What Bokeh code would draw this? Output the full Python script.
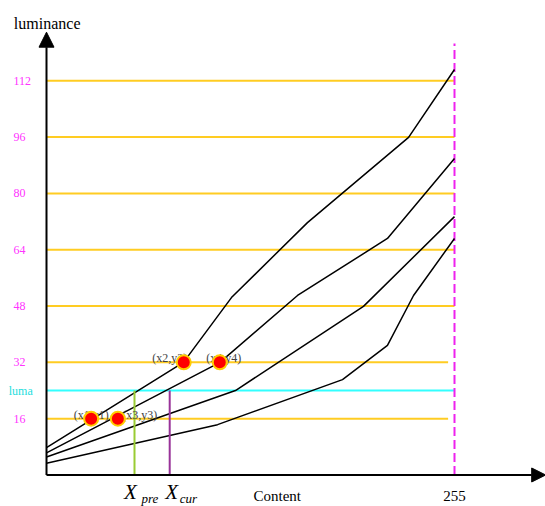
from bokeh.plotting import figure
from bokeh.models import Range1d, ColumnDataSource, Arrow, NormalHead
from bokeh.core.properties import value
from bokeh.embed import file_html
from bokeh.resources import INLINE

# ---- data ----
curve1_x = [0, 85.6, 115.6, 163.1, 226.3, 255]
curve1_y = [7.8, 32, 50.4, 71.7, 95.9, 115.2]
curve2_x = [0, 108.4, 156.9, 213.1, 255]
curve2_y = [6.3, 32, 51.0, 67.2, 89.9]
curve3_x = [0, 118.1, 198.1, 255]
curve3_y = [5.1, 24.0, 47.9, 73.4]
curve4_x = [0, 106.9, 185.0, 213.1, 229.4, 255]
curve4_y = [3.35, 14.3, 27.1, 36.8, 51.0, 67.2]

levels_long = [48, 64, 80, 96, 112]
levels_short = [16, 32]
luma = 24
tick_labels = ["112", "96", "80", "64", "48", "32", "16"]
tick_values = [112, 96, 80, 64, 48, 32, 16]

point_names = ["(x1,y1)", "(x2,y2)", "(x3,y3)", "(x4,y4)"]
point_x = [27.9, 85.8, 44.6, 108.3]
point_y = [16, 32, 16, 32]

x_pre = 55
x_cur = 77
x_max = 255
short_end = 251

# ---- figure (data mapped to page pixels) ----
p = figure(width=545, height=506, output_backend="svg", toolbar_location=None,
           x_range=Range1d(-28.75, 311.875), y_range=Range1d(-8.95, 134.8),
           x_axis_type=None, y_axis_type=None, min_border=0,
           outline_line_color=None, background_fill_color="white")
p.xgrid.visible = False
p.ygrid.visible = False

yellow = "#ffcc22"
serif = value("Liberation Serif")

# horizontal level lines
for lv in levels_long:
    p.line([0, x_max], [lv, lv], line_color=yellow, line_width=2)
for lv in levels_short:
    p.line([0, short_end], [lv, lv], line_color=yellow, line_width=2)
p.line([0, x_max], [luma, luma], line_color="#33ffff", line_width=2)

# dashed 255 line
p.line([x_max, x_max], [0, 122.6], line_color="#ee22ee", line_width=2, line_dash="9 4")

# curves
for cx, cy in [(curve1_x, curve1_y), (curve2_x, curve2_y), (curve3_x, curve3_y), (curve4_x, curve4_y)]:
    p.line(cx, cy, line_color="black", line_width=1.5)

# vertical markers
p.line([x_pre, x_pre], [0, luma], line_color="#99cc33", line_width=2)
p.line([x_cur, x_cur], [0, luma], line_color="#993399", line_width=2)

# axes with arrows
p.add_layout(Arrow(end=NormalHead(size=14, fill_color="black", line_color="black"),
                   x_start=0, y_start=0, x_end=312, y_end=0, line_width=2, line_color="black"))
p.add_layout(Arrow(end=NormalHead(size=15, fill_color="black", line_color="black"),
                   x_start=0, y_start=0, x_end=0, y_end=125.8, line_width=2, line_color="black"))

# tick labels
p.text(x=[-20.6] * len(tick_values), y=tick_values, text=tick_labels,
       text_font=serif, text_font_size="12px", text_color="#ff33ff",
       text_align="left", text_baseline="middle")
p.text(x=[-23.6], y=[luma], text=["luma"], text_font=serif, text_font_size="12px",
       text_color="#22dddd", text_align="left", text_baseline="middle")

# titles
p.text(x=[-20.4], y=[128.3], text=["luminance"], text_font=serif, text_font_size="16px",
       text_color="black", text_align="left", text_baseline="alphabetic")
p.text(x=[144.2, x_max], y=[-5.9, -5.9], text=["Content", "255"], text_font=serif,
       text_font_size="15px", text_color="black", text_align="center", text_baseline="alphabetic")

# X_pre / X_cur
p.text(x=[x_pre, x_cur], y=[-4.7, -4.7], text=["X", "X"], x_offset=[-4, 2],
       text_font=serif, text_font_style="italic", text_font_size="21px",
       text_color="black", text_align="center", text_baseline="alphabetic")
p.text(x=[x_pre, x_cur], y=[-6.6, -6.6], text=["pre", "cur"], x_offset=[7, 10],
       text_font=serif, text_font_style="italic", text_font_size="13px",
       text_color="black", text_align="left", text_baseline="alphabetic")

# point labels and points
src = ColumnDataSource(dict(x=point_x, y=point_y, name=point_names,
                            dx=[0, -14, 22, 4]))
p.text(x="x", y="y", text="name", x_offset="dx", y_offset=-4, source=src,
       text_font=serif, text_font_size="12px", text_color="#444444",
       text_align="center", text_baseline="alphabetic")
p.scatter(x="x", y="y", source=src, size=14, marker="circle",
          fill_color="#ff0000", line_color="#ffcc00", line_width=2)

open("out.html", "w").write(file_html(p, INLINE))
